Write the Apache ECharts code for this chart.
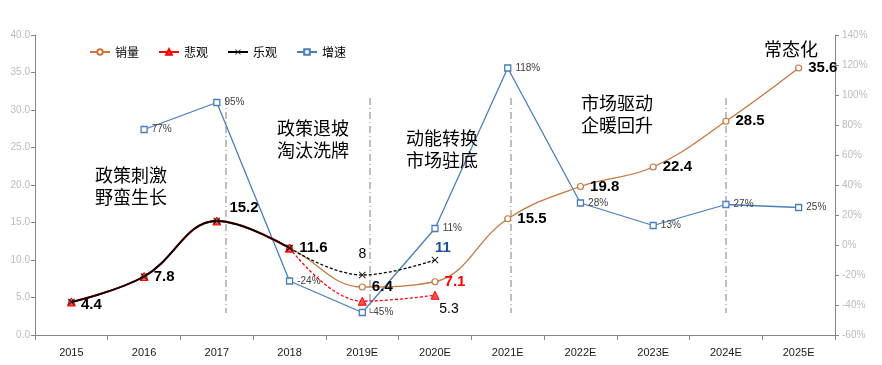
<!DOCTYPE html>
<html>
<head>
<meta charset="utf-8">
<script src="https://cdn.jsdelivr.net/npm/echarts@6/dist/echarts.min.js"></script>
<style>
html,body{margin:0;padding:0;background:#fff;}
#c{width:882px;height:365px;}
</style>
</head>
<body>
<div id="c"></div>
<script>
const categories = ['2015','2016','2017','2018','2019E','2020E','2021E','2022E','2023E','2024E','2025E'];
const salesValues = [4.4,7.8,15.2,11.6,6.4,7.1,15.5,19.8,22.4,28.5,35.6];
const pessimisticValues = [4.4,7.8,15.2,11.6,4.5,5.3];
const optimisticValues = [4.4,7.8,15.2,11.6,8,10];
const optimisticLabels = ['','','','','8','11'];
const pessimisticLabels = ['','','','','','5.3'];
const growthValues = [null,77,95,-24,-45,11,118,28,13,27,25];
const forecastStart = 3;
const leftAxisMin = 0, leftAxisMax = 40, leftAxisStep = 5;
const rightAxisMin = -60, rightAxisMax = 140, rightAxisStep = 20;
const seriesNames = ['销量','悲观','乐观','增速'];
const annotations = [
  {text:'政策刺激\n野蛮生长', x:95, y:164},
  {text:'政策退坡\n淘汰洗牌', x:277, y:117},
  {text:'动能转换\n市场驻底', x:406, y:127},
  {text:'市场驱动\n企暖回升', x:581, y:92},
  {text:'常态化', x:764, y:38}
];
const dividerX = [226, 370, 511, 726];

const SALES = '#C5773F', BLUE = '#4A7EBB', RED = '#FF0000', BLACK = '#000000';
const BOLDFONT = '"Liberation Sans",Arial,sans-serif';
const CJK = '"Noto Sans CJK SC","Noto Sans",sans-serif';
const xSymbol = 'path://M0,1L1,0L5,4L9,0L10,1L6,5L10,9L9,10L5,6L1,10L0,9L4,5Z';

function solidPart(arr){ return arr.map((v,i)=> i<=forecastStart ? v : null); }
function dashedPart(arr){ return arr.map((v,i)=> i>=forecastStart ? v : null); }

const salesData = salesValues.map((v,i)=>{
  const item = {value:v, label:{color: categories[i]==='2020E' ? RED : BLACK}};
  if (categories[i]==='2017') { item.label.offset=[3,-13]; }
  if (categories[i]==='2015') { item.label.offset=[0,3]; }
  return item;
});
const optDashed = dashedPart(optimisticValues).map((v,i)=>{
  if (v===null) return null;
  const item = {value:v};
  if (optimisticLabels[i]==='11') item.label = {color:'#1F4E9A', fontWeight:'bold', fontSize:15, fontFamily:BOLDFONT, offset:[8,9]};
  return item;
});

const chart = echarts.init(document.getElementById('c'), null, {renderer:'canvas'});
chart.setOption({
  animation:false,
  backgroundColor:'#fff',
  grid:{left:35, right:47, top:35, bottom:30, containLabel:false},
  legend:{
    data:seriesNames, left:84, top:41, itemWidth:20, itemHeight:7, itemGap:19,
    textStyle:{fontSize:12, color:'#000', fontFamily:CJK}
  },
  xAxis:{
    type:'category', data:categories, boundaryGap:true,
    axisLine:{lineStyle:{color:'#868686', width:1}},
    axisTick:{show:true, length:5, lineStyle:{color:'#868686'}},
    axisLabel:{fontSize:11, color:'#1a1a1a', margin:12, fontFamily:'"Liberation Sans",sans-serif'}
  },
  yAxis:[
    {type:'value', min:leftAxisMin, max:leftAxisMax, interval:leftAxisStep,
     splitLine:{show:false},
     axisLine:{show:true, lineStyle:{color:'#868686'}},
     axisTick:{show:true, length:4, lineStyle:{color:'#868686'}},
     axisLabel:{fontSize:10, color:'#bcbcbc', margin:5, formatter:v=>v.toFixed(1), fontFamily:'"Liberation Sans",sans-serif'}},
    {type:'value', min:rightAxisMin, max:rightAxisMax, interval:rightAxisStep,
     splitLine:{show:false},
     axisLine:{show:true, lineStyle:{color:'#868686'}},
     axisTick:{show:true, length:4, lineStyle:{color:'#868686'}},
     axisLabel:{fontSize:10, color:'#bcbcbc', margin:7, formatter:v=>v+'%', fontFamily:'"Liberation Sans",sans-serif'}}
  ],
  graphic:[
    ...dividerX.map(x=>({type:'line', silent:true, z:1,
      shape:{x1:x, y1:98, x2:x, y2:313},
      style:{stroke:'#7f7f7f', lineWidth:1, lineDash:[7,3,1,3]}})),
    ...annotations.map(a=>({type:'text', left:a.x, top:a.y, z:10,
      style:{text:a.text, fontSize:18, lineHeight:22, fill:'#000', fontFamily:CJK}}))
  ],
  series:[
    {name:'增速', type:'line', yAxisIndex:1, data:growthValues, smooth:false,
     symbol:'rect', symbolSize:6, showAllSymbol:true,
     lineStyle:{color:BLUE, width:1.3},
     itemStyle:{color:'#fff', borderColor:BLUE, borderWidth:1.3},
     label:{show:true, position:'right', distance:4, fontSize:10, color:'#404040',
       fontFamily:'"Liberation Sans",sans-serif', formatter:p=>p.value+'%'},
     z:2},
    {name:'销量', type:'line', data:salesData, smooth:0.4,
     symbol:'circle', symbolSize:6, showAllSymbol:true,
     lineStyle:{color:SALES, width:1.3},
     itemStyle:{color:'#fff', borderColor:SALES, borderWidth:1.2},
     label:{show:true, position:'right', distance:6, fontSize:15, fontWeight:'bold',
       fontFamily:BOLDFONT, formatter:p=>p.value.toFixed(1)},
     z:3},
    {name:'悲观', type:'line', data:solidPart(pessimisticValues), smooth:0.4,
     symbol:'triangle', symbolSize:8, showAllSymbol:true,
     lineStyle:{color:RED, width:2},
     itemStyle:{color:'#ff5050', borderColor:RED, borderWidth:1},
     z:4},
    {name:'悲观预测', type:'line', data:dashedPart(pessimisticValues), smooth:0.4,
     symbol:'triangle', symbolSize:8, showAllSymbol:true,
     lineStyle:{color:RED, width:1.3, type:[3,2]},
     itemStyle:{color:'#ff5050', borderColor:RED, borderWidth:1},
     label:{show:true, position:'bottom', distance:6, fontSize:14, color:'#000',
       fontFamily:'"Liberation Sans",sans-serif', offset:[14,-4],
       formatter:p=>pessimisticLabels[p.dataIndex]||''},
     z:4},
    {name:'乐观', type:'line', data:solidPart(optimisticValues), smooth:0.4,
     symbol:xSymbol, symbolSize:7, showAllSymbol:true,
     lineStyle:{color:BLACK, width:1.8},
     itemStyle:{color:'#222'},
     z:5},
    {name:'乐观预测', type:'line', data:optDashed, smooth:0.4,
     symbol:xSymbol, symbolSize:7, showAllSymbol:true,
     lineStyle:{color:BLACK, width:1.3, type:[3,2]},
     itemStyle:{color:'#222'},
     label:{show:true, position:'top', distance:10, fontSize:14, color:'#000',
       fontFamily:'"Liberation Sans",sans-serif',
       formatter:p=>optimisticLabels[p.dataIndex]||''},
     z:5}
  ]
});
</script>
</body>
</html>
